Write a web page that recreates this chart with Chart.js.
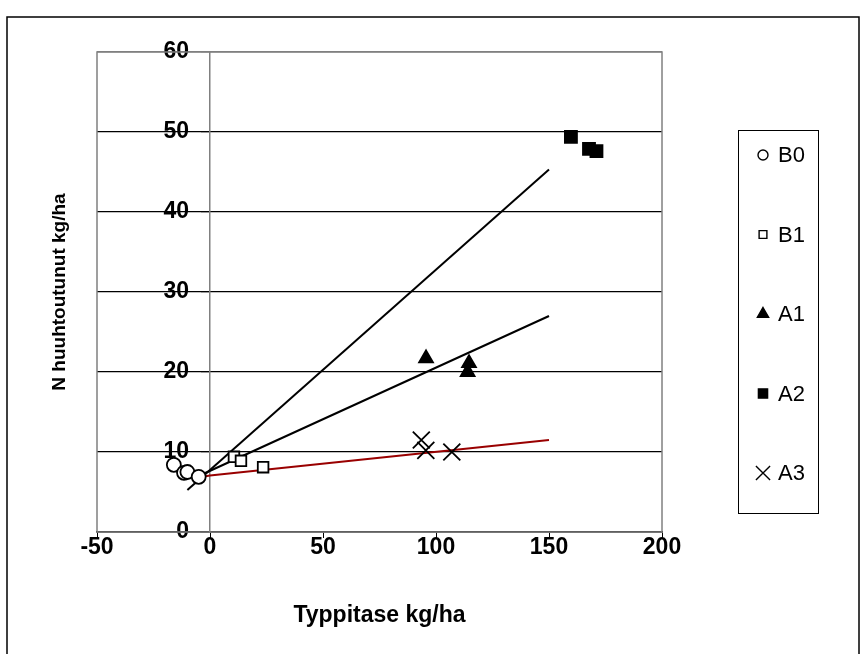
<!DOCTYPE html>
<html>
<head>
<meta charset="utf-8">
<script src="https://cdn.jsdelivr.net/npm/chart.js@4"></script>
<style>
  html, body { margin: 0; padding: 0; background: #fff; }
</style>
</head>
<body>
<canvas id="chart" width="866" height="654"></canvas>
<script>
// data
const seriesNames = ["B0", "B1", "A1", "A2", "A3"];
const b0X = [-16, -11.5, -10, -5];
const b0Y = [8.4, 7.4, 7.5, 6.9];
const b1X = [10.6, 13.7, 23.5];
const b1Y = [9.4, 8.9, 8.1];
const a1X = [95.6, 114.6, 114];
const a1Y = [21.7, 21.1, 20.0];
const a2X = [159.7, 167.7, 171];
const a2Y = [49.4, 47.9, 47.6];
const a3X = [93.5, 95.5, 107];
const a3Y = [11.5, 10.2, 10.0];

// trend lines
const trendA2X = [-10, 150];
const trendA2Y = [5.25, 45.3];
const trendA1X = [-5, 150];
const trendA1Y = [7.0, 27.0];
const trendA3X = [-8, 0, 150];
const trendA3Y = [6.7, 7.05, 11.5];

const xTicks = [-50, 0, 50, 100, 150, 200];
const yTicks = [0, 10, 20, 30, 40, 50, 60];

const FONT = "'Liberation Sans', Arial, sans-serif";

function pts(xs, ys) {
  return xs.map((x, i) => ({ x: x, y: ys[i] }));
}

const markers = [
  { style: "circle", radius: 7, fill: "#fff", legendR: 5 },
  { style: "rect", radius: 7.5, fill: "#fff", legendR: 5.5 },
  { style: "triangle", radius: 8, fill: "#000", legendR: 6.5 },
  { style: "rect", radius: 8.5, fill: "#000", legendR: 6.5 },
  { style: "crossRot", radius: 12, fill: "#000", legendR: 10 }
];
const seriesX = [b0X, b1X, a1X, a2X, a3X];
const seriesY = [b0Y, b1Y, a1Y, a2Y, a3Y];

const datasets = seriesNames.map((name, i) => ({
  label: name,
  data: pts(seriesX[i], seriesY[i]),
  pointStyle: markers[i].style,
  pointRadius: markers[i].radius,
  pointHoverRadius: markers[i].radius,
  backgroundColor: markers[i].fill,
  borderColor: "#000",
  borderWidth: 1.8,
  showLine: false,
  order: 1
}));

function trend(xs, ys, color) {
  return {
    label: "",
    data: pts(xs, ys),
    showLine: true,
    borderColor: color,
    borderWidth: 2,
    pointRadius: 0,
    fill: false,
    order: 2
  };
}
datasets.push(trend(trendA2X, trendA2Y, "#000"));
datasets.push(trend(trendA1X, trendA1Y, "#000"));
datasets.push(trend(trendA3X, trendA3Y, "#990000"));

// plot frame, outer border and the boxed legend
const decor = {
  id: "decor",
  beforeDraw(chart) {
    // y labels sit left of the axis at x=0, not on it
    const items = chart.scales.y.getLabelItems(chart.chartArea);
    if (!items._moved) {
      items.forEach(it => { it.options.translation[0] -= 21; });
      items._moved = true;
    }
  },
  beforeDatasetsDraw(chart) {
    const a = chart.chartArea;
    const ctx = chart.ctx;
    ctx.save();
    ctx.strokeStyle = "#808080";
    ctx.lineWidth = 1.5;
    ctx.strokeRect(a.left, a.top, a.right - a.left, a.bottom - a.top);
    ctx.restore();
  },
  afterDraw(chart) {
    const ctx = chart.ctx;
    ctx.save();
    ctx.strokeStyle = "#000";
    ctx.lineWidth = 1.5;
    ctx.strokeRect(7, 17, 852, 660);

    ctx.lineWidth = 1;
    ctx.strokeRect(738.5, 130.5, 80, 383);
    ctx.font = "22px " + FONT;
    ctx.textBaseline = "middle";
    ctx.textAlign = "left";
    seriesNames.forEach((name, i) => {
      const y = 155 + i * 79.5;
      ctx.fillStyle = markers[i].fill;
      ctx.strokeStyle = "#000";
      ctx.lineWidth = 1.4;
      Chart.helpers.drawPoint(ctx, {
        pointStyle: markers[i].style,
        radius: markers[i].legendR,
        rotation: 0,
        borderWidth: 1.4
      }, 763, y);
      ctx.fillStyle = "#000";
      ctx.fillText(name, 778, y + 1);
    });
    ctx.restore();
  }
};

new Chart(document.getElementById("chart"), {
  type: "scatter",
  data: { datasets: datasets },
  options: {
    responsive: false,
    animation: false,
    events: [],
    layout: { padding: { left: 44, right: 204, top: 52, bottom: 21 } },
    plugins: {
      legend: { display: false },
      tooltip: { enabled: false }
    },
    scales: {
      x: {
        type: "linear",
        position: "bottom",
        min: -50,
        max: 200,
        afterBuildTicks: (s) => { s.ticks = xTicks.map(v => ({ value: v })); },
        afterFit: (s) => { s.height = 101; },
        grid: { drawOnChartArea: false, drawTicks: true, tickLength: 6, color: "#000" },
        border: { display: true, color: "#000", width: 1.5 },
        ticks: { color: "#000", padding: -4, font: { family: FONT, size: 23, weight: "bold" } },
        title: {
          display: true,
          text: "Typpitase kg/ha",
          color: "#000",
          font: { family: FONT, size: 23, weight: "bold" }
        }
      },
      y: {
        type: "linear",
        position: { x: 0 },
        min: 0,
        max: 60,
        afterBuildTicks: (s) => { s.ticks = yTicks.map(v => ({ value: v })); },
        grid: {
          drawOnChartArea: true,
          drawTicks: true,
          tickLength: 8,
          color: (c) => (c.tick && c.tick.value === 60 ? "#808080" : "#000"),
          lineWidth: 1.2
        },
        border: { display: true, color: "#808080", width: 1.5 },
        ticks: { color: "#000", font: { family: FONT, size: 23, weight: "bold" } }
      },
      yTitle: {
        type: "linear",
        axis: "y",
        position: "left",
        min: 0,
        max: 1,
        afterFit: (s) => { s.width = 53; },
        grid: { display: false },
        border: { display: false },
        ticks: { display: false },
        title: {
          display: true,
          text: "N huuhtoutunut kg/ha",
          color: "#000",
          font: { family: FONT, size: 19, weight: "bold" }
        }
      }
    }
  },
  plugins: [decor]
});
</script>
</body>
</html>
